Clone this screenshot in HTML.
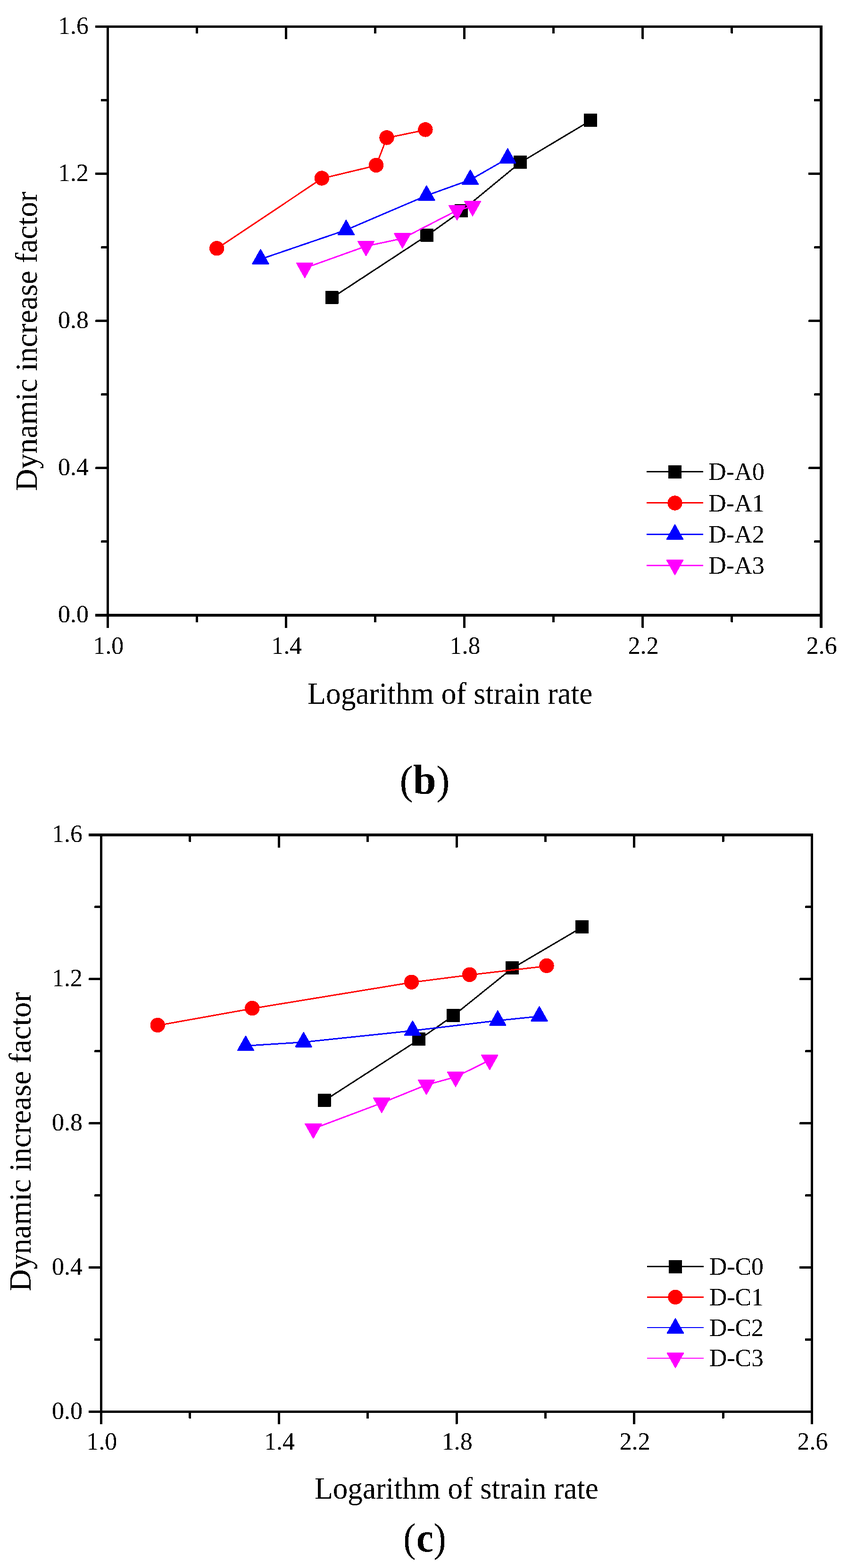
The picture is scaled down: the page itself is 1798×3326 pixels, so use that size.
<!DOCTYPE html>
<html lang="en">
<head>
<meta charset="utf-8">
<title>Dynamic increase factor vs. logarithm of strain rate</title>
<style>
html,body{margin:0;padding:0;background:#fff;}
body{width:1798px;height:3326px;overflow:hidden;}
svg{display:block;font-family:"Liberation Serif", "DejaVu Serif", serif;fill:#000;}
</style>
</head>
<body>
<svg width="1798" height="3326" viewBox="0 0 1798 3326" shape-rendering="crispEdges">
<defs><filter id="bw" filterUnits="userSpaceOnUse" x="0" y="0" width="1798" height="3326" color-interpolation-filters="sRGB"><feComponentTransfer><feFuncA type="discrete" tableValues="0 1"/></feComponentTransfer></filter></defs>
<rect width="1798" height="3326" fill="#fff"/>
<g id="chart-b">
<g fill="#000">
<rect x="226" y="54" width="5" height="1254"/>
<rect x="1738" y="54" width="6" height="1254"/>
<rect x="226" y="54" width="1518" height="5"/>
<rect x="226" y="1302" width="1518" height="6"/>
<rect x="226" y="1307" width="5" height="25" rx="1"/>
<rect x="415.06" y="1307" width="5" height="13" rx="1"/>
<rect x="415.06" y="58" width="5" height="13" rx="1"/>
<rect x="604.12" y="1307" width="5" height="25" rx="1"/>
<rect x="604.12" y="58" width="5" height="25" rx="1"/>
<rect x="793.19" y="1307" width="5" height="13" rx="1"/>
<rect x="793.19" y="58" width="5" height="13" rx="1"/>
<rect x="982.25" y="1307" width="5" height="25" rx="1"/>
<rect x="982.25" y="58" width="5" height="25" rx="1"/>
<rect x="1171.31" y="1307" width="5" height="13" rx="1"/>
<rect x="1171.31" y="58" width="5" height="13" rx="1"/>
<rect x="1360.38" y="1307" width="5" height="25" rx="1"/>
<rect x="1360.38" y="58" width="5" height="25" rx="1"/>
<rect x="1549.44" y="1307" width="5" height="13" rx="1"/>
<rect x="1549.44" y="58" width="5" height="13" rx="1"/>
<rect x="1738" y="1307" width="6" height="25" rx="1"/>
<rect x="202" y="1302" width="25" height="6" rx="1.5"/>
<rect x="214" y="1146.44" width="13" height="5" rx="1.5"/>
<rect x="1726" y="1146.44" width="13" height="5" rx="1.5"/>
<rect x="202" y="990.38" width="25" height="5" rx="1.5"/>
<rect x="1714" y="990.38" width="25" height="5" rx="1.5"/>
<rect x="214" y="834.31" width="13" height="5" rx="1.5"/>
<rect x="1726" y="834.31" width="13" height="5" rx="1.5"/>
<rect x="202" y="678.25" width="25" height="5" rx="1.5"/>
<rect x="1714" y="678.25" width="25" height="5" rx="1.5"/>
<rect x="214" y="522.19" width="13" height="5" rx="1.5"/>
<rect x="1726" y="522.19" width="13" height="5" rx="1.5"/>
<rect x="202" y="366.12" width="25" height="5" rx="1.5"/>
<rect x="1714" y="366.12" width="25" height="5" rx="1.5"/>
<rect x="214" y="210.06" width="13" height="5" rx="1.5"/>
<rect x="1726" y="210.06" width="13" height="5" rx="1.5"/>
<rect x="202" y="54" width="25" height="5" rx="1.5"/>
</g>
<path d="M703.5 632L905.2 499.7L978.1 447.8L1102.9 345L1252.1 255.8" fill="none" stroke="#000" stroke-width="3" stroke-linejoin="round"/>
<rect x="689.5" y="617" width="28" height="28" rx="1" fill="#000"/>
<rect x="891.2" y="484.7" width="28" height="28" rx="1" fill="#000"/>
<rect x="964.1" y="432.8" width="28" height="28" rx="1" fill="#000"/>
<rect x="1088.9" y="330" width="28" height="28" rx="1" fill="#000"/>
<rect x="1238.1" y="240.8" width="28" height="28" rx="1" fill="#000"/>
<path d="M459.7 527.5L682.3 378.7L797.6 351.1L820 292.6L901.9 275.6" fill="none" stroke="#f00" stroke-width="3" stroke-linejoin="round"/>
<circle cx="459.7" cy="526.8" r="15.7" fill="#f00"/>
<circle cx="682.3" cy="378" r="15.7" fill="#f00"/>
<circle cx="797.6" cy="350.4" r="15.7" fill="#f00"/>
<circle cx="820" cy="291.9" r="15.7" fill="#f00"/>
<circle cx="901.9" cy="274.9" r="15.7" fill="#f00"/>
<path d="M552.5 549.8L733.9 487.8L904.4 414.8L997.2 381.4L1076.4 336.1" fill="none" stroke="#00f" stroke-width="3" stroke-linejoin="round"/>
<path d="M552.5 529L569.7 559.7H535.3Z" fill="#00f" stroke="#00f" stroke-width="2" stroke-linejoin="round"/>
<path d="M733.9 467L751.1 497.7H716.7Z" fill="#00f" stroke="#00f" stroke-width="2" stroke-linejoin="round"/>
<path d="M904.4 394L921.6 424.7H887.2Z" fill="#00f" stroke="#00f" stroke-width="2" stroke-linejoin="round"/>
<path d="M997.2 360.6L1014.4 391.3H980Z" fill="#00f" stroke="#00f" stroke-width="2" stroke-linejoin="round"/>
<path d="M1076.4 315.3L1093.6 346H1059.2Z" fill="#00f" stroke="#00f" stroke-width="2" stroke-linejoin="round"/>
<path d="M646.2 568.7L776.1 522.2L853.3 505.8L969.1 446.3L1002.1 437.4" fill="none" stroke="#f0f" stroke-width="3" stroke-linejoin="round"/>
<path d="M646.2 589L663.4 558.3H629Z" fill="#f0f" stroke="#f0f" stroke-width="2" stroke-linejoin="round"/>
<path d="M776.1 542.5L793.3 511.8H758.9Z" fill="#f0f" stroke="#f0f" stroke-width="2" stroke-linejoin="round"/>
<path d="M853.3 526.1L870.5 495.4H836.1Z" fill="#f0f" stroke="#f0f" stroke-width="2" stroke-linejoin="round"/>
<path d="M969.1 466.6L986.3 435.9H951.9Z" fill="#f0f" stroke="#f0f" stroke-width="2" stroke-linejoin="round"/>
<path d="M1002.1 457.7L1019.3 427H984.9Z" fill="#f0f" stroke="#f0f" stroke-width="2" stroke-linejoin="round"/>
<rect x="1371" y="999" width="120" height="3" fill="#000"/>
<rect x="1417" y="987" width="28" height="28" rx="1" fill="#000"/>
<rect x="1371" y="1065" width="120" height="3" fill="#f00"/>
<circle cx="1431" cy="1067" r="15.7" fill="#f00"/>
<rect x="1371" y="1132" width="120" height="3" fill="#00f"/>
<path d="M1431 1113L1448.2 1143.7H1413.8Z" fill="#00f" stroke="#00f" stroke-width="2" stroke-linejoin="round"/>
<rect x="1371" y="1198" width="120" height="3" fill="#f0f"/>
<path d="M1431 1219L1448.2 1188.3H1413.8Z" fill="#f0f" stroke="#f0f" stroke-width="2" stroke-linejoin="round"/>
</g>
<g id="chart-c">
<g fill="#000">
<rect x="212" y="1768" width="5" height="1229"/>
<rect x="1719" y="1768" width="5" height="1229"/>
<rect x="212" y="1768" width="1512" height="6"/>
<rect x="212" y="2992" width="1512" height="5"/>
<rect x="212" y="2996" width="5" height="25" rx="1"/>
<rect x="400.38" y="2996" width="5" height="13" rx="1"/>
<rect x="400.38" y="1773" width="5" height="13" rx="1"/>
<rect x="588.75" y="2996" width="5" height="25" rx="1"/>
<rect x="588.75" y="1773" width="5" height="25" rx="1"/>
<rect x="777.13" y="2996" width="5" height="13" rx="1"/>
<rect x="777.13" y="1773" width="5" height="13" rx="1"/>
<rect x="965.5" y="2996" width="5" height="25" rx="1"/>
<rect x="965.5" y="1773" width="5" height="25" rx="1"/>
<rect x="1153.88" y="2996" width="5" height="13" rx="1"/>
<rect x="1153.88" y="1773" width="5" height="13" rx="1"/>
<rect x="1342.25" y="2996" width="5" height="25" rx="1"/>
<rect x="1342.25" y="1773" width="5" height="25" rx="1"/>
<rect x="1530.63" y="2996" width="5" height="13" rx="1"/>
<rect x="1530.63" y="1773" width="5" height="13" rx="1"/>
<rect x="1719" y="2996" width="5" height="25" rx="1"/>
<rect x="188" y="2992" width="25" height="5" rx="1.5"/>
<rect x="200" y="2839.06" width="13" height="5" rx="1.5"/>
<rect x="1707" y="2839.06" width="13" height="5" rx="1.5"/>
<rect x="188" y="2686.12" width="25" height="5" rx="1.5"/>
<rect x="1695" y="2686.12" width="25" height="5" rx="1.5"/>
<rect x="200" y="2533.19" width="13" height="5" rx="1.5"/>
<rect x="1707" y="2533.19" width="13" height="5" rx="1.5"/>
<rect x="188" y="2380.25" width="25" height="5" rx="1.5"/>
<rect x="1695" y="2380.25" width="25" height="5" rx="1.5"/>
<rect x="200" y="2227.31" width="13" height="5" rx="1.5"/>
<rect x="1707" y="2227.31" width="13" height="5" rx="1.5"/>
<rect x="188" y="2074.38" width="25" height="5" rx="1.5"/>
<rect x="1695" y="2074.38" width="25" height="5" rx="1.5"/>
<rect x="200" y="1921.44" width="13" height="5" rx="1.5"/>
<rect x="1707" y="1921.44" width="13" height="5" rx="1.5"/>
<rect x="188" y="1768" width="25" height="6" rx="1.5"/>
</g>
<path d="M687.6 2334.7L888.3 2205.2L961 2154.7L1086.1 2054L1234.1 1966.9" fill="none" stroke="#000" stroke-width="3" stroke-linejoin="round"/>
<rect x="673.6" y="2319.7" width="28" height="28" rx="1" fill="#000"/>
<rect x="874.3" y="2190.2" width="28" height="28" rx="1" fill="#000"/>
<rect x="947" y="2139.7" width="28" height="28" rx="1" fill="#000"/>
<rect x="1072.1" y="2039" width="28" height="28" rx="1" fill="#000"/>
<rect x="1220.1" y="1951.9" width="28" height="28" rx="1" fill="#000"/>
<path d="M334.3 2175.2L534.7 2139.3L872.5 2083.9L995.6 2068.1L1159 2049.2" fill="none" stroke="#f00" stroke-width="3" stroke-linejoin="round"/>
<circle cx="334.3" cy="2174.5" r="15.7" fill="#f00"/>
<circle cx="534.7" cy="2138.6" r="15.7" fill="#f00"/>
<circle cx="872.5" cy="2083.2" r="15.7" fill="#f00"/>
<circle cx="995.6" cy="2067.4" r="15.7" fill="#f00"/>
<circle cx="1159" cy="2048.5" r="15.7" fill="#f00"/>
<path d="M520.9 2218.4L643.7 2210.6L874.8 2186.3L1055.3 2164.8L1143.5 2155.8" fill="none" stroke="#00f" stroke-width="3" stroke-linejoin="round"/>
<path d="M520.9 2197.6L538.1 2228.3H503.7Z" fill="#00f" stroke="#00f" stroke-width="2" stroke-linejoin="round"/>
<path d="M643.7 2189.8L660.9 2220.5H626.5Z" fill="#00f" stroke="#00f" stroke-width="2" stroke-linejoin="round"/>
<path d="M874.8 2165.5L892 2196.2H857.6Z" fill="#00f" stroke="#00f" stroke-width="2" stroke-linejoin="round"/>
<path d="M1055.3 2144L1072.5 2174.7H1038.1Z" fill="#00f" stroke="#00f" stroke-width="2" stroke-linejoin="round"/>
<path d="M1143.5 2135L1160.7 2165.7H1126.3Z" fill="#00f" stroke="#00f" stroke-width="2" stroke-linejoin="round"/>
<path d="M664.3 2394.2L809.3 2339.7L904.1 2301.2L966 2284.5L1038.3 2248.6" fill="none" stroke="#f0f" stroke-width="3" stroke-linejoin="round"/>
<path d="M664.3 2414.5L681.5 2383.8H647.1Z" fill="#f0f" stroke="#f0f" stroke-width="2" stroke-linejoin="round"/>
<path d="M809.3 2360L826.5 2329.3H792.1Z" fill="#f0f" stroke="#f0f" stroke-width="2" stroke-linejoin="round"/>
<path d="M904.1 2321.5L921.3 2290.8H886.9Z" fill="#f0f" stroke="#f0f" stroke-width="2" stroke-linejoin="round"/>
<path d="M966 2304.8L983.2 2274.1H948.8Z" fill="#f0f" stroke="#f0f" stroke-width="2" stroke-linejoin="round"/>
<path d="M1038.3 2268.9L1055.5 2238.2H1021.1Z" fill="#f0f" stroke="#f0f" stroke-width="2" stroke-linejoin="round"/>
<rect x="1372" y="2685" width="120" height="3" fill="#000"/>
<rect x="1418" y="2673" width="28" height="28" rx="1" fill="#000"/>
<rect x="1372" y="2750" width="120" height="3" fill="#f00"/>
<circle cx="1432" cy="2751.5" r="15.7" fill="#f00"/>
<rect x="1372" y="2815" width="120" height="2" fill="#00f"/>
<path d="M1432 2797L1449.2 2827.7H1414.8Z" fill="#00f" stroke="#00f" stroke-width="2" stroke-linejoin="round"/>
<rect x="1372" y="2880" width="120" height="2" fill="#f0f"/>
<path d="M1432 2901L1449.2 2870.3H1414.8Z" fill="#f0f" stroke="#f0f" stroke-width="2" stroke-linejoin="round"/>
</g>
<g filter="url(#bw)">
<g font-size="52" text-anchor="end">
<text x="188.1" y="1320.4">0.0</text>
<text x="188.1" y="1008.27">0.4</text>
<text x="188.1" y="696.15">0.8</text>
<text x="188.1" y="384.02">1.2</text>
<text x="188.1" y="71.9">1.6</text>
</g>
<g font-size="52" text-anchor="middle">
<text x="229.7" y="1387">1.0</text>
<text x="607.83" y="1387">1.4</text>
<text x="985.95" y="1387">1.8</text>
<text x="1364.08" y="1387">2.2</text>
<text x="1742.2" y="1387">2.6</text>
</g>
<text transform="translate(1502 1018) scale(0.99 1)" font-size="52.8">D-A0</text>
<text transform="translate(1502 1084.6) scale(0.99 1)" font-size="52.8">D-A1</text>
<text transform="translate(1502 1150.8) scale(0.99 1)" font-size="52.8">D-A2</text>
<text transform="translate(1502 1216.8) scale(0.99 1)" font-size="52.8">D-A3</text>
<text transform="translate(954.3 1492.7) scale(0.976 1)" font-size="65" text-anchor="middle">Logarithm of strain rate</text>
<text transform="translate(78.2 724) rotate(-90)" font-size="65" text-anchor="middle">Dynamic increase factor</text>
<text transform="translate(0 1683.72) scale(0.85 0.862)" font-size="100"><tspan x="997.04">(</tspan><tspan x="1030.05" dy="0.56" font-weight="bold" font-size="104.31">b</tspan><tspan x="1088.61" dy="-0.56">)</tspan></text>
<g font-size="52" text-anchor="end">
<text x="175.1" y="3009.5">0.0</text>
<text x="175.1" y="2703.62">0.4</text>
<text x="175.1" y="2397.75">0.8</text>
<text x="175.1" y="2091.88">1.2</text>
<text x="175.1" y="1786">1.6</text>
</g>
<g font-size="52" text-anchor="middle">
<text x="215.7" y="3075.1">1.0</text>
<text x="592.45" y="3075.1">1.4</text>
<text x="969.2" y="3075.1">1.8</text>
<text x="1345.95" y="3075.1">2.2</text>
<text x="1722.7" y="3075.1">2.6</text>
</g>
<text transform="translate(1504 2703.8) scale(0.99 1)" font-size="52.2">D-C0</text>
<text transform="translate(1504 2769) scale(0.99 1)" font-size="52.2">D-C1</text>
<text transform="translate(1504 2833.8) scale(0.99 1)" font-size="52.2">D-C2</text>
<text transform="translate(1504 2898.1) scale(0.99 1)" font-size="52.2">D-C3</text>
<text transform="translate(968 3178.6) scale(0.972 1)" font-size="65" text-anchor="middle">Logarithm of strain rate</text>
<text transform="translate(64.6 2421.7) rotate(-90)" font-size="65" text-anchor="middle">Dynamic increase factor</text>
<text transform="translate(0 3290.62) scale(0.81 0.862)" font-size="100"><tspan x="1055.64">(</tspan><tspan x="1089.91" dy="0.70" font-weight="bold" font-size="101.75">c</tspan><tspan x="1134.52" dy="-0.70">)</tspan></text>
</g>
</svg>
</body>
</html>
